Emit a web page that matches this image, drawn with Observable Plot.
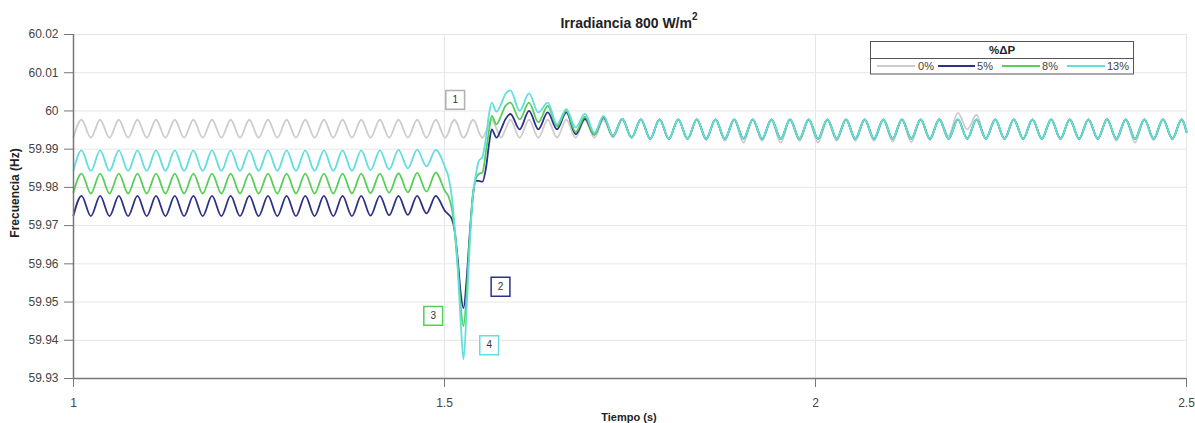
<!DOCTYPE html>
<html><head><meta charset="utf-8">
<script src="https://cdn.jsdelivr.net/npm/d3@7"></script>
<script src="https://cdn.jsdelivr.net/npm/@observablehq/plot@0.6"></script>
<style>body{margin:0;background:#fff}</style>
</head><body><div id="chart"></div>
<script>
// ---- data ----
const seriesNames = ["0%", "5%", "8%", "13%"];
const seriesColors = ["#cccccc", "#2f3087", "#55cf55", "#62dede"];
const xTicks = [1, 1.5, 2, 2.5];
const yTicks = [59.93, 59.94, 59.95, 59.96, 59.97, 59.98, 59.99, 60.00, 60.01, 60.02];

// segment A: before the event (peaks/troughs)
const timeA = [1.0000, 1.0108, 1.0234, 1.0359, 1.0485, 1.0611, 1.0736, 1.0862, 1.0987, 1.1113, 1.1239,
  1.1365, 1.1490, 1.1616, 1.1741, 1.1867, 1.1993, 1.2118, 1.2244, 1.2370, 1.2495,
  1.2621, 1.2747, 1.2872, 1.2998, 1.3124, 1.3249, 1.3375, 1.3501, 1.3626, 1.3752,
  1.3878, 1.4003, 1.4129, 1.4254, 1.4380, 1.4506, 1.4631, 1.4757, 1.4883, 1.5008];
const grayA = [59.9932, 59.9977, 59.9930, 59.9977, 59.9930, 59.9977, 59.9930, 59.9977, 59.9930, 59.9977, 59.9930,
  59.9977, 59.9930, 59.9977, 59.9930, 59.9977, 59.9930, 59.9977, 59.9930, 59.9977, 59.9930,
  59.9977, 59.9930, 59.9977, 59.9930, 59.9977, 59.9930, 59.9977, 59.9930, 59.9977, 59.9930,
  59.9977, 59.9930, 59.9977, 59.9930, 59.9977, 59.9930, 59.9977, 59.9930, 59.9977, 59.9930];
const blueA = [59.9727, 59.9778, 59.9725, 59.9778, 59.9725, 59.9778, 59.9725, 59.9778, 59.9725, 59.9778, 59.9725,
  59.9778, 59.9725, 59.9778, 59.9725, 59.9778, 59.9725, 59.9778, 59.9725, 59.9778, 59.9725,
  59.9778, 59.9725, 59.9778, 59.9725, 59.9778, 59.9725, 59.9778, 59.9725, 59.9778, 59.9725,
  59.9778, 59.9726, 59.9778, 59.9727, 59.9778, 59.9728, 59.9778, 59.9732, 59.9778, 59.9738];
const greenA = [59.9787, 59.9836, 59.9784, 59.9836, 59.9784, 59.9836, 59.9784, 59.9836, 59.9784, 59.9836, 59.9784,
  59.9836, 59.9784, 59.9836, 59.9784, 59.9836, 59.9784, 59.9836, 59.9784, 59.9836, 59.9784,
  59.9836, 59.9784, 59.9836, 59.9784, 59.9836, 59.9784, 59.9836, 59.9784, 59.9836, 59.9784,
  59.9836, 59.9785, 59.9836, 59.9786, 59.9837, 59.9787, 59.9838, 59.9789, 59.9839, 59.9790];
const cyanA = [59.9845, 59.9897, 59.9843, 59.9897, 59.9843, 59.9897, 59.9843, 59.9897, 59.9843, 59.9897, 59.9843,
  59.9897, 59.9843, 59.9897, 59.9843, 59.9897, 59.9843, 59.9897, 59.9843, 59.9897, 59.9843,
  59.9897, 59.9843, 59.9897, 59.9843, 59.9897, 59.9843, 59.9897, 59.9843, 59.9897, 59.9843,
  59.9897, 59.9845, 59.9897, 59.9847, 59.9898, 59.9850, 59.9899, 59.9855, 59.9898, 59.9852];

// segment B: the frequency dip
const timeB = [1.5050, 1.5100, 1.5134, 1.5180, 1.5220, 1.5256, 1.5300, 1.5340, 1.5385,
  1.5420, 1.5460, 1.5511, 1.5560, 1.5600, 1.5637, 1.5700, 1.5762, 1.5820];
const grayB = [59.9942, 59.9969, 59.9977, 59.9963, 59.9940, 59.9930, 59.9941, 59.9963, 59.9977,
  59.9969, 59.9946, 59.9930, 59.9946, 59.9968, 59.9977, 59.9954, 59.9930, 59.9951];
const blueB = [59.9730, 59.9717, 59.9691, 59.9608, 59.9520, 59.9484, 59.9564, 59.9678, 59.9782,
  59.9817, 59.9817, 59.9815, 59.9852, 59.9913, 59.9952, 59.9930, 59.9952, 59.9978];
const greenB = [59.9778, 59.9743, 59.9691, 59.9590, 59.9485, 59.9437, 59.9529, 59.9669, 59.9786,
  59.9821, 59.9835, 59.9839, 59.9896, 59.9948, 59.9987, 59.9965, 59.9987, 60.0013];
const cyanB = [59.9830, 59.9773, 59.9704, 59.9581, 59.9442, 59.9350, 59.9485, 59.9651, 59.9782,
  59.9830, 59.9868, 59.9880, 59.9930, 59.9992, 60.0022, 59.9998, 60.0018, 60.0044];

// segment C: damped oscillation after the dip
const timeC = [1.5888, 1.6013, 1.6139, 1.6265, 1.6391, 1.6516, 1.6642, 1.6767, 1.6893, 1.7019, 1.7144, 1.7270, 1.7396, 1.7521];
const grayC = [59.9977, 59.9930, 59.9977, 59.9930, 59.9977, 59.9930, 59.9977, 59.9930, 59.9977, 59.9930, 59.9977, 59.9930, 59.9977, 59.9930];
const blueC = [59.9992, 59.9952, 60.0000, 59.9952, 59.9996, 59.9952, 59.9996, 59.9939, 59.9979, 59.9938, 59.9983, 59.9935, 59.9979, 59.9930];
const greenC = [60.0022, 59.9978, 60.0022, 59.9970, 60.0013, 59.9960, 60.0000, 59.9945, 59.9985, 59.9938, 59.9985, 59.9935, 59.9979, 59.9930];
const cyanC = [60.0054, 60.0000, 60.0046, 59.9996, 60.0022, 59.9965, 60.0005, 59.9957, 59.9993, 59.9943, 59.9987, 59.9935, 59.9979, 59.9930];

// segment D: steady state
const timeD = [1.7647, 1.7772, 1.7898, 1.8024, 1.8150, 1.8275, 1.8401, 1.8526, 1.8652, 1.8778,
  1.8904, 1.9029, 1.9155, 1.9280, 1.9406, 1.9532, 1.9657, 1.9783, 1.9909, 2.0034,
  2.0160, 2.0286, 2.0411, 2.0537, 2.0663, 2.0788, 2.0914, 2.1039, 2.1165, 2.1291,
  2.1417, 2.1542, 2.1668, 2.1793, 2.1919, 2.2045, 2.2170, 2.2296, 2.2422, 2.2547,
  2.2673, 2.2798, 2.2924, 2.3050, 2.3176, 2.3301, 2.3427, 2.3552, 2.3678, 2.3804,
  2.3929, 2.4055, 2.4181, 2.4306, 2.4432, 2.4557, 2.4683, 2.4809, 2.4935, 2.5000];
const grayD = [59.9978, 59.9926, 59.9978, 59.9926, 59.9978, 59.9926, 59.9978, 59.9924, 59.9978, 59.9922,
  59.9976, 59.9917, 59.9977, 59.9922, 59.9976, 59.9917, 59.9977, 59.9922, 59.9976, 59.9917,
  59.9977, 59.9922, 59.9977, 59.9922, 59.9977, 59.9922, 59.9977, 59.9920, 59.9977, 59.9918,
  59.9978, 59.9924, 59.9980, 59.9935, 59.9995, 59.9952, 59.9990, 59.9928, 59.9978, 59.9926,
  59.9978, 59.9926, 59.9978, 59.9926, 59.9978, 59.9926, 59.9978, 59.9926, 59.9978, 59.9926,
  59.9980, 59.9922, 59.9978, 59.9917, 59.9978, 59.9924, 59.9978, 59.9926, 59.9978, 59.9945];
const steadyD = [59.9978, 59.9927, 59.9978, 59.9927, 59.9978, 59.9927, 59.9978, 59.9927, 59.9978, 59.9927,
  59.9978, 59.9927, 59.9978, 59.9927, 59.9978, 59.9927, 59.9978, 59.9927, 59.9978, 59.9927,
  59.9978, 59.9927, 59.9978, 59.9927, 59.9978, 59.9927, 59.9978, 59.9927, 59.9978, 59.9927,
  59.9978, 59.9927, 59.9978, 59.9927, 59.9978, 59.9927, 59.9978, 59.9927, 59.9978, 59.9927,
  59.9978, 59.9927, 59.9978, 59.9927, 59.9978, 59.9927, 59.9978, 59.9927, 59.9978, 59.9927,
  59.9978, 59.9927, 59.9978, 59.9927, 59.9978, 59.9927, 59.9978, 59.9927, 59.9978, 59.9945];

// annotation boxes
const annoLabels = ["1", "2", "3", "4"];
const annoT = [1.5144, 1.5755, 1.4848, 1.5602];
const annoV = [60.0029, 59.9540, 59.9464, 59.9387];
const annoColors = ["#b0b0b0", "#2f3087", "#55cf55", "#62dede"];

// ---- build ----
const time = [...timeA, ...timeB, ...timeC, ...timeD];
const seriesValues = [
  [...grayA, ...grayB, ...grayC, ...grayD],
  [...blueA, ...blueB, ...blueC, ...steadyD],
  [...greenA, ...greenB, ...greenC, ...steadyD],
  [...cyanA, ...cyanB, ...cyanC, ...steadyD]
];
seriesValues.forEach((vals, i) => { if (vals.length !== time.length) console.error("length mismatch", seriesNames[i], vals.length, time.length); });

const lineMarks = seriesValues.map((vals, i) =>
  Plot.line(time.map((t, j) => ({t, v: vals[j]})), {x: "t", y: "v", stroke: seriesColors[i], strokeWidth: 1.8, curve: "monotone-x"})
);
const annoMarks = annoLabels.flatMap((lbl, i) => {
  const row = [{t: annoT[i], v: annoV[i], lbl}];
  return [
    Plot.dot(row, {x: "t", y: "v", symbol: "square", r: 10.6, fill: "white", stroke: annoColors[i], strokeWidth: 1.5}),
    Plot.text(row, {x: "t", y: "v", text: "lbl", fill: "#333", fontSize: 10})
  ];
});

const fmt = d3.format("~f");
const chart = Plot.plot({
  width: 1195, height: 423,
  marginTop: 34, marginBottom: 45, marginLeft: 73, marginRight: 9,
  style: {fontFamily: "'Liberation Sans', Arial, sans-serif", fontSize: "12px", background: "white", color: "#444"},
  x: {domain: [1, 2.5], label: null},
  y: {domain: [59.93, 60.02], label: null},
  marks: [
    Plot.gridY(yTicks, {stroke: "#e6e6e6", strokeOpacity: 1}),
    Plot.gridX([1.5, 2, 2.5], {stroke: "#e6e6e6", strokeOpacity: 1}),
    ...lineMarks,
    Plot.ruleX([1], {stroke: "#777", strokeWidth: 1.5}),
    Plot.ruleY([59.93], {stroke: "#777", strokeWidth: 1.5}),
    Plot.axisY(yTicks, {tickSize: 9, tickPadding: 6, tickFormat: fmt, stroke: "#777", fill: "#444", fontSize: 12, label: null}),
    Plot.axisX(xTicks, {tickSize: 9, tickPadding: 11, tickFormat: fmt, stroke: "#777", fill: "#444", fontSize: 12, label: null}),
    ...annoMarks
  ]
});
document.getElementById("chart").appendChild(chart);

// ---- title, axis labels, legend ----
const svg = d3.select(chart);
const ff = "'Liberation Sans', Arial, sans-serif";
const title = svg.append("text").attr("x", 629).attr("y", 28).attr("text-anchor", "middle")
  .attr("font-family", ff).attr("font-size", 14).attr("font-weight", "bold").attr("fill", "#222");
title.append("tspan").text("Irradiancia 800 W/m");
title.append("tspan").attr("dy", -8).attr("font-size", 10).text("2");

svg.append("text").attr("x", 629).attr("y", 421).attr("text-anchor", "middle")
  .attr("font-family", ff).attr("font-size", 11).attr("font-weight", "bold").attr("fill", "#222").text("Tiempo (s)");
svg.append("text").attr("transform", "translate(19,193) rotate(-90)").attr("text-anchor", "middle")
  .attr("font-family", ff).attr("font-size", 12).attr("font-weight", "bold").attr("fill", "#222").text("Frecuencia (Hz)");

const lg = svg.append("g");
lg.append("rect").attr("x", 870.5).attr("y", 41.5).attr("width", 263).attr("height", 32.5)
  .attr("fill", "white").attr("stroke", "#555").attr("stroke-width", 1);
lg.append("line").attr("x1", 870.5).attr("x2", 1133.5).attr("y1", 58.5).attr("y2", 58.5).attr("stroke", "#555");
lg.append("text").attr("x", 1002).attr("y", 54).attr("text-anchor", "middle").attr("font-family", ff)
  .attr("font-size", 11.5).attr("font-weight", "bold").attr("fill", "#222").text("%ΔP");
const lgLines = [[877, 915, 934], [938, 975, 993], [1002, 1040, 1058], [1067, 1105, 1129]];
seriesNames.forEach((name, i) => {
  const [a, b, tx] = lgLines[i];
  lg.append("line").attr("x1", a).attr("x2", b).attr("y1", 66).attr("y2", 66)
    .attr("stroke", seriesColors[i]).attr("stroke-width", 1.8);
  lg.append("text").attr("x", tx).attr("y", 70).attr("text-anchor", "end").attr("font-family", ff)
    .attr("font-size", 11).attr("fill", "#444").text(name);
});
</script>
</body></html>
